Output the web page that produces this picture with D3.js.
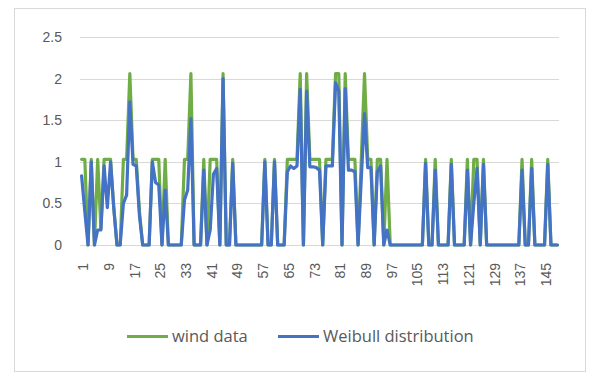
<!DOCTYPE html>
<html lang="en">
<head>
<meta charset="UTF-8">
<title>wind data vs Weibull distribution</title>
<script src="https://d3js.org/d3.v7.min.js"></script>
<style>
  body { margin: 0; background: #fff; font-family: "Open Sans", "Noto Sans", sans-serif; }
  .grid line { stroke: #d9d9d9; stroke-width: 1px; }
  .axis text { fill: #595959; font-size: 14px; }
  .series { fill: none; stroke-width: 3.2px; stroke-linejoin: round; stroke-linecap: round; }
  .legend text { fill: #595959; font-size: 16.5px; }
</style>
</head>
<body>
<div id="chart"></div>
<script>
// categories 1..149 (time index)
const categories = d3.range(1, 150);
const tickLabels = [1, 9, 17, 25, 33, 41, 49, 57, 65, 73, 81, 89, 97, 105, 113, 121, 129, 137, 145];
const yTicks = [0, 0.5, 1, 1.5, 2, 2.5];

const windData = [
  1.03, 1.03, 0, 1.03, 0, 1.03, 0.2, 1.03, 1.03, 1.03,
  0.45, 0, 0, 1.03, 1.03, 2.06, 1.03, 1.03, 0.4, 0,
  0, 0, 1.03, 1.03, 1.03, 0, 1.03, 0, 0, 0,
  0, 0, 1.03, 1.03, 2.06, 0, 0, 0, 1.03, 0,
  1.03, 1.03, 1.03, 0, 2.06, 0, 0, 1.03, 0, 0,
  0, 0, 0, 0, 0, 0, 0, 1.03, 0, 0,
  1.03, 0, 0, 0, 1.03, 1.03, 1.03, 1.03, 2.06, 0,
  2.06, 1.03, 1.03, 1.03, 1.03, 0, 1.03, 1.03, 1.03, 2.06,
  2.06, 0, 2.06, 1.03, 1.03, 1.03, 0, 1.03, 2.06, 1.03,
  1.03, 0, 1.03, 1.03, 0, 1.03, 0, 0, 0, 0,
  0, 0, 0, 0, 0, 0, 0, 1.03, 0, 0,
  1.03, 0, 0, 0, 0, 1.03, 0, 0, 0, 0,
  1.03, 0, 1.03, 1.03, 0, 1.03, 0, 0, 0, 0,
  0, 0, 0, 0, 0, 0, 0, 1.03, 0, 0,
  1.03, 0, 0, 0, 0, 1.03, 0, 0, 0
];

const weibull = [
  0.83, 0.4, 0, 1.0, 0, 0.18, 0.18, 0.95, 0.45, 1.0,
  0.45, 0, 0, 0.5, 0.6, 1.72, 0.97, 0.95, 0.35, 0,
  0, 0, 1.0, 0.75, 0.72, 0, 0.66, 0, 0, 0,
  0, 0, 0.54, 0.66, 1.52, 0, 0, 0, 0.9, 0,
  0.18, 0.85, 0.92, 0, 2.0, 0, 0, 0.98, 0, 0,
  0, 0, 0, 0, 0, 0, 0, 1.0, 0, 0,
  1.0, 0, 0, 0, 0.88, 0.95, 0.92, 0.95, 1.87, 0,
  1.85, 0.94, 0.94, 0.93, 0.9, 0, 0.95, 0.95, 0.95, 1.95,
  1.85, 0, 1.88, 0.9, 0.9, 0.88, 0, 0.8, 1.58, 0.93,
  0.93, 0, 0.88, 0.95, 0, 0.18, 0, 0, 0, 0,
  0, 0, 0, 0, 0, 0, 0, 0.98, 0, 0,
  0.9, 0, 0, 0, 0, 0.97, 0, 0, 0, 0,
  0.9, 0, 0.5, 0.92, 0, 0.97, 0, 0, 0, 0,
  0, 0, 0, 0, 0, 0, 0, 0.9, 0, 0,
  0.92, 0, 0, 0, 0, 0.97, 0, 0, 0
];

const series = [
  { name: "wind data", values: windData, color: "#70ad47" },
  { name: "Weibull distribution", values: weibull, color: "#4472c4" }
];

const width = 599, height = 380;
const plot = { left: 80, right: 559, top: 37, bottom: 245 };

const svg = d3.select("#chart").append("svg")
  .attr("width", width)
  .attr("height", height);

// chart border
svg.append("rect")
  .attr("x", 14.5).attr("y", 8.5)
  .attr("width", 571).attr("height", 363)
  .attr("fill", "#fff")
  .attr("stroke", "#d9d9d9");

const x = d3.scalePoint()
  .domain(categories)
  .range([plot.left, plot.right])
  .padding(0.5);

const y = d3.scaleLinear()
  .domain([0, 2.5])
  .range([plot.bottom, plot.top]);

// gridlines
svg.append("g").attr("class", "grid")
  .selectAll("line")
  .data(yTicks)
  .join("line")
  .attr("x1", plot.left).attr("x2", plot.right)
  .attr("y1", d => Math.round(y(d)) + 0.5)
  .attr("y2", d => Math.round(y(d)) + 0.5);

// y axis labels
const yAxis = d3.axisLeft(y).tickValues(yTicks).tickSize(0).tickPadding(18).tickFormat(d3.format("~g"));
svg.append("g").attr("class", "axis")
  .attr("transform", `translate(${plot.left},0)`)
  .call(yAxis)
  .call(g => g.select(".domain").remove());

// x axis labels, rotated
const xAxis = d3.axisBottom(x).tickValues(tickLabels).tickSize(0).tickPadding(0);
svg.append("g").attr("class", "axis")
  .attr("transform", `translate(0,${plot.bottom})`)
  .call(xAxis)
  .call(g => g.select(".domain").remove())
  .selectAll("text")
  .attr("transform", "rotate(-90)")
  .attr("x", -18)
  .attr("y", 1)
  .attr("dy", "0.36em")
  .style("text-anchor", "end");

// lines
const line = d3.line()
  .x((d, i) => x(categories[i]))
  .y(d => y(d));

svg.append("g")
  .selectAll("path")
  .data(series)
  .join("path")
  .attr("class", "series")
  .attr("stroke", d => d.color)
  .attr("d", d => line(d.values));

// legend
const legendItems = [
  { s: series[0], x: 127, w: 41 },
  { s: series[1], x: 278, w: 41 }
];
const legend = svg.append("g").attr("class", "legend");
legendItems.forEach(it => {
  legend.append("line")
    .attr("x1", it.x).attr("x2", it.x + it.w)
    .attr("y1", 336.5).attr("y2", 336.5)
    .attr("stroke", it.s.color)
    .attr("stroke-width", 3);
  legend.append("text")
    .attr("x", it.x + it.w + 4)
    .attr("y", 336)
    .attr("dy", "0.35em")
    .text(it.s.name);
});
</script>
</body>
</html>
